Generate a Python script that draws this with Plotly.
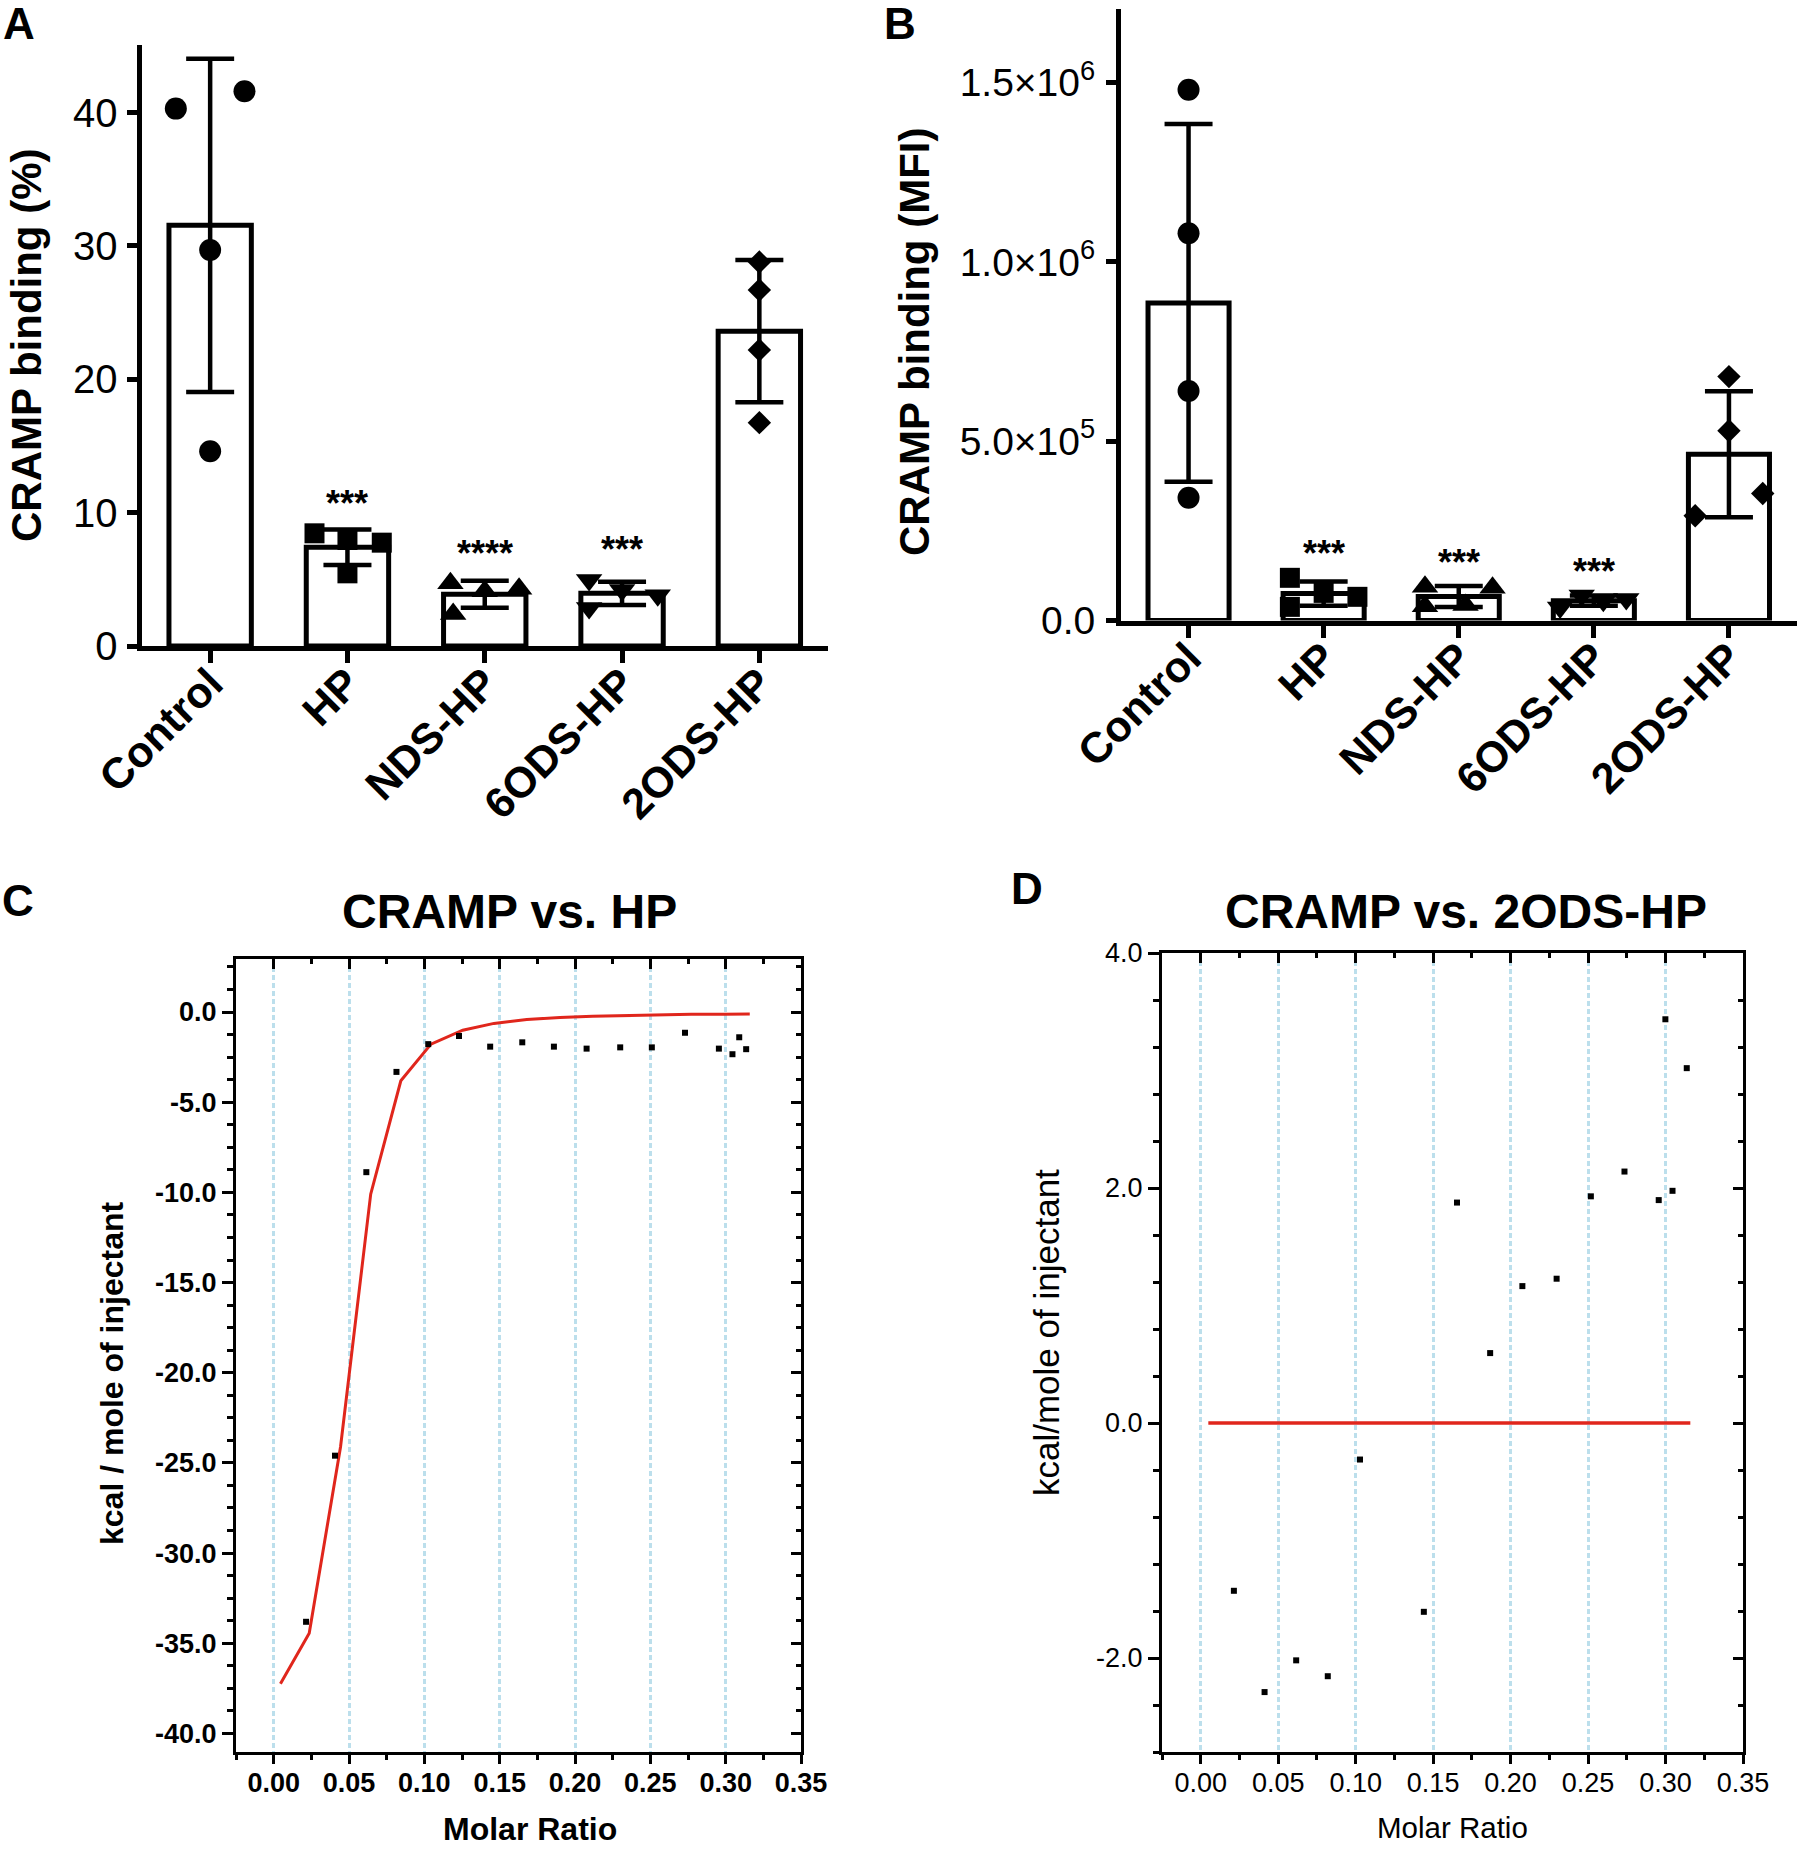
import numpy as np
import plotly.graph_objects as go

# ---------------- data ----------------
categories = ["Control", "HP", "NDS-HP", "6ODS-HP", "2ODS-HP"]

# Panel A: CRAMP binding (%)
a_control = [40.3, 41.6, 29.7, 14.6]
a_hp = [8.45, 7.95, 7.75, 5.45]
a_nds = [4.7, 4.1, 4.3, 2.4]
a_6ods = [4.95, 4.2, 3.8, 2.85]
a_2ods = [28.8, 26.7, 22.2, 16.75]
a_yticks = [0, 10, 20, 30, 40]
sig_a = ["", "***", "****", "***", ""]

# Panel B: CRAMP binding (MFI)
b_control = [1.48e6, 1.08e6, 6.4e5, 3.42e5]
b_hp = [1.19e5, 7.7e4, 6.6e4, 3.8e4]
b_nds = [9.4e4, 4.3e4, 9.1e4, 4.0e4]
b_6ods = [3.6e4, 7.0e4, 5.5e4, 6.0e4]
b_2ods = [6.8e5, 5.29e5, 3.54e5, 2.92e5]
b_yticks = [0, 5e5, 1e6, 1.5e6]
b_yticklabels = ["0.0", "5.0×10<sup>5</sup>", "1.0×10<sup>6</sup>", "1.5×10<sup>6</sup>"]
sig_b = ["", "***", "***", "***", ""]

# Panel C: CRAMP vs. HP (ITC)
c_x = [0.0215, 0.0407, 0.0615, 0.0815, 0.1026, 0.123, 0.1437, 0.165, 0.186,
       0.2077, 0.230, 0.251, 0.273, 0.2955, 0.3045, 0.309, 0.3136]
c_y = [-33.81, -24.6, -8.88, -3.32, -1.78, -1.33, -1.92, -1.68, -1.92,
       -2.03, -1.96, -1.96, -1.15, -2.03, -2.34, -1.40, -2.06]
c_fit_x = [0.0045, 0.0236, 0.0444, 0.0644, 0.0844, 0.1044, 0.1255, 0.1462,
           0.168, 0.190, 0.2117, 0.2335, 0.2554, 0.2772, 0.299, 0.316]
c_fit_y = [-37.25, -34.44, -24.1, -10.1, -3.81, -1.78, -1.01, -0.63,
           -0.42, -0.30, -0.24, -0.19, -0.16, -0.13, -0.12, -0.11]
c_xticks = [0.0, 0.05, 0.10, 0.15, 0.20, 0.25, 0.30, 0.35]
c_yticks = [0, -5, -10, -15, -20, -25, -30, -35, -40]

# Panel D: CRAMP vs. 2ODS-HP (ITC)
d_x = [0.0214, 0.0412, 0.0616, 0.082, 0.1028, 0.144, 0.1654, 0.1868, 0.2076,
       0.2297, 0.2518, 0.2735, 0.2956, 0.2999, 0.3045, 0.3137]
d_y = [-1.428, -2.29, -2.02, -2.155, -0.311, -1.607, 1.876, 0.595, 1.165,
       1.228, 1.929, 2.14, 1.897, 3.436, 1.976, 3.02]
d_fit_x = [0.0049, 0.316]
d_fit_y = [0.0, 0.0]
d_xticks = [0.0, 0.05, 0.10, 0.15, 0.20, 0.25, 0.30, 0.35]
d_yticks = [-2, 0, 2, 4]

# ---------------- style ----------------
W, H = 1800, 1849
FONT = "Liberation Sans, Arial, Helvetica, sans-serif"
SYMBOLS = ["circle", "square", "triangle-up", "triangle-down", "diamond"]
SIZES = [22, 20, 23, 23, 18]
JIT_A = [[-0.25, 0.25, 0, 0], [-0.24, 0, 0.25, 0], [-0.25, 0, 0.25, -0.23],
         [-0.24, 0, 0.26, -0.24], [0, 0, 0, 0]]
JIT_B = [[0, 0, 0, 0], [-0.25, 0, 0.25, -0.25], [-0.25, 0.05, 0.25, -0.25],
         [-0.25, -0.09, 0.07, 0.24], [0, 0, 0.25, -0.25]]
GRID = "#bcdfec"
RED = "#e0261c"


def dx(p):
    return p / W


def dy(p):
    return 1 - p / H


fig = go.Figure()
annotations = []


def ann(text, xp, yp, size, weight=400, angle=0):
    annotations.append(dict(text=text, x=dx(xp), y=dy(yp), xref="paper", yref="paper",
                            xanchor="center", yanchor="middle", showarrow=False,
                            textangle=angle, borderpad=0,
                            font=dict(family=FONT, size=size, color="black", weight=weight)))


def bar_panel(groups, xa, ya, jit, sig, shift):
    idx = list(range(len(groups)))
    means = [float(np.mean(g)) for g in groups]
    sds = [float(np.std(g, ddof=1)) for g in groups]
    fig.add_trace(go.Bar(x=idx, y=means, width=0.6, xaxis=xa, yaxis=ya,
                         marker=dict(color="white", line=dict(color="black", width=5)),
                         showlegend=False, hoverinfo="skip"))
    fig.add_trace(go.Scatter(x=idx, y=means, mode="markers", xaxis=xa, yaxis=ya,
                             marker=dict(size=2, color="rgba(0,0,0,0)"),
                             error_y=dict(type="data", array=sds, visible=True,
                                          color="black", thickness=4.5, width=24),
                             showlegend=False, hoverinfo="skip", cliponaxis=False))
    for i, g in enumerate(groups):
        fig.add_trace(go.Scatter(x=[i + o for o in jit[i]], y=g, mode="markers",
                                 xaxis=xa, yaxis=ya, cliponaxis=False,
                                 marker=dict(symbol=SYMBOLS[i], size=SIZES[i], color="black",
                                             line=dict(width=0)),
                                 showlegend=False, hoverinfo="skip"))
        if sig[i]:
            annotations.append(dict(text=sig[i], x=i, y=max(g), xref=xa, yref=ya,
                                    xanchor="center", yanchor="middle", showarrow=False,
                                    yshift=shift,
                                    font=dict(family=FONT, size=36, color="black", weight=700)))


bar_panel([a_control, a_hp, a_nds, a_6ods, a_2ods], "x", "y", JIT_A, sig_a, 30)
bar_panel([b_control, b_hp, b_nds, b_6ods, b_2ods], "x2", "y2", JIT_B, sig_b, 24)

# Panel C traces
fig.add_trace(go.Scatter(x=c_fit_x, y=c_fit_y, mode="lines", xaxis="x3", yaxis="y3",
                         line=dict(color=RED, width=3), showlegend=False))
fig.add_trace(go.Scatter(x=c_x, y=c_y, mode="markers", xaxis="x3", yaxis="y3",
                         marker=dict(symbol="square", size=6, color="black"), showlegend=False))
# Panel D traces
fig.add_trace(go.Scatter(x=d_fit_x, y=d_fit_y, mode="lines", xaxis="x4", yaxis="y4",
                         line=dict(color=RED, width=3.5), showlegend=False))
fig.add_trace(go.Scatter(x=d_x, y=d_y, mode="markers", xaxis="x4", yaxis="y4",
                         marker=dict(symbol="square", size=6, color="black"), showlegend=False))
# placeholder traces for mirrored (inside-tick) axes
for xa, ya in [("x5", "y3"), ("x3", "y5"), ("x6", "y4"), ("x4", "y6")]:
    fig.add_trace(go.Scatter(x=[None], y=[None], xaxis=xa, yaxis=ya, showlegend=False,
                             hoverinfo="skip"))


def tf(size, weight=400):
    return dict(family=FONT, size=size, color="black", weight=weight)


common_bar_x = dict(range=[-0.5, 4.5], tickmode="array", tickvals=list(range(5)),
                    ticktext=categories, tickangle=-45, ticks="outside", ticklen=12,
                    tickwidth=5, tickcolor="black", showline=True, linewidth=5,
                    linecolor="black", showgrid=False, zeroline=False, automargin=False,
                    ticklabelstandoff=-22, tickfont=tf(43, 700))

layout = dict(
    template="none",
    width=W, height=H, margin=dict(l=0, r=0, t=0, b=0, autoexpand=False),
    paper_bgcolor="white", plot_bgcolor="rgba(0,0,0,0)", showlegend=False,
    xaxis=dict(domain=[dx(141.5), dx(828)], anchor="y", **common_bar_x),
    yaxis=dict(domain=[dy(646), dy(44.6)], anchor="x", range=[0, 45.1],
               tickmode="array", tickvals=a_yticks, ticktext=[str(v) for v in a_yticks],
               ticks="outside", ticklen=10, tickwidth=5, tickcolor="black",
               showline=True, linewidth=5, linecolor="black", showgrid=False,
               zeroline=False, tickfont=tf(40), ticklabelstandoff=1, automargin=False),
    xaxis2=dict(domain=[dx(1121), dx(1796.5)], anchor="y2", **common_bar_x),
    yaxis2=dict(domain=[dy(620.5), dy(9)], anchor="x2", range=[0, 1.705e6],
                tickmode="array", tickvals=b_yticks, ticktext=b_yticklabels,
                ticks="outside", ticklen=10, tickwidth=5, tickcolor="black",
                showline=True, linewidth=5, linecolor="black", showgrid=False,
                zeroline=False, tickfont=tf(39), ticklabelstandoff=3, automargin=False),
)


def itc_axes(xdom, ydom, yrange, xticks, yticks, xminor, yminor, weight, n, m):
    xa, ya, xm, ym = f"xaxis{n}", f"yaxis{n}", f"xaxis{m}", f"yaxis{m}"
    xr = [-0.025, 0.35]
    base = dict(showline=True, linewidth=3, linecolor="black", zeroline=False,
                tickcolor="black", tickwidth=3, automargin=False)
    layout[xa] = dict(domain=xdom, anchor=f"y{n}", range=xr, tickmode="array",
                      tickvals=xticks, ticktext=[f"{v:.2f}" for v in xticks],
                      ticks="outside", ticklen=9, showgrid=True, gridcolor=GRID,
                      gridwidth=2.5, griddash="5px,3px", tickfont=tf(27, weight),
                      ticklabelstandoff=-4,
                      minor=dict(tickmode="array", tickvals=xminor, ticks="outside",
                                 ticklen=5, tickwidth=3, tickcolor="black", showgrid=False),
                      **base)
    layout[ya] = dict(domain=ydom, anchor=f"x{n}", range=yrange, tickmode="array",
                      tickvals=yticks, ticktext=[f"{v:.1f}" for v in yticks],
                      ticks="outside", ticklen=11, showgrid=False, tickfont=tf(27, weight),
                      ticklabelstandoff=0,
                      minor=dict(tickmode="array", tickvals=yminor, ticks="outside",
                                 ticklen=6, tickwidth=3, tickcolor="black", showgrid=False),
                      **base)
    layout[xm] = dict(overlaying=f"x{n}", side="top", anchor=f"y{n}", range=xr,
                      tickmode="array", tickvals=xticks, ticks="inside", ticklen=10,
                      showticklabels=False, showgrid=False,
                      minor=dict(tickmode="array", tickvals=xminor, ticks="inside",
                                 ticklen=5, tickwidth=3, tickcolor="black", showgrid=False),
                      **base)
    layout[ym] = dict(overlaying=f"y{n}", side="right", anchor=f"x{n}", range=yrange,
                      tickmode="array", tickvals=yticks, ticks="inside", ticklen=10,
                      showticklabels=False, showgrid=False,
                      minor=dict(tickmode="array", tickvals=yminor, ticks="inside",
                                 ticklen=5, tickwidth=3, tickcolor="black", showgrid=False),
                      **base)


x_minor = [round(-0.025 + 0.05 * k, 3) for k in range(8)]
c_minor = [v for v in np.arange(2.5, -41.1, -1.25).round(2).tolist() if v % 5 != 0]
d_minor = [v for v in np.arange(4.0, -2.81, -0.4).round(2).tolist()
           if abs(v % 2) > 1e-6 and abs(v % 2 - 2) > 1e-6]

itc_axes([dx(236), dx(801)], [dy(1752), dy(959)], [-41.03, 2.94], c_xticks, c_yticks,
         x_minor, c_minor, 700, 3, 5)
itc_axes([dx(1162), dx(1743)], [dy(1752), dy(953)], [-2.8, 4.0], d_xticks, d_yticks,
         x_minor, d_minor, 400, 4, 6)

# text
ann("A", 19, 24, 44, 700)
ann("B", 900, 24, 44, 700)
ann("C", 18, 900, 44, 700)
ann("D", 1027, 888, 44, 700)
ann("CRAMP binding (%)", 26, 345, 42, 700, -90)
ann("CRAMP binding (MFI)", 914, 342, 42, 700, -90)
ann("CRAMP vs. HP", 509, 912, 48, 700)
ann("CRAMP vs. 2ODS-HP", 1466, 912, 48, 700)
ann("kcal / mole of injectant", 112, 1373, 32, 700, -90)
ann("Molar Ratio", 530, 1829, 32, 700)
ann("kcal/mole of injectant", 1046, 1333, 35, 400, -90)
ann("Molar Ratio", 1452, 1827, 29.5, 400)

layout["annotations"] = annotations
fig.update_layout(**layout)
fig.write_html("out.html", config={"displayModeBar": False})
